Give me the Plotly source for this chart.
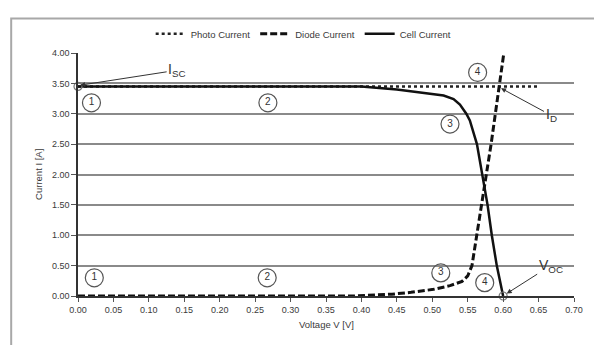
import plotly.graph_objects as go

# ---- data ----
photo_v = [0.00, 0.65]
photo_i = [3.45, 3.45]

diode_v = [0.00, 0.10, 0.20, 0.30, 0.39, 0.443, 0.47, 0.502, 0.525, 0.542, 0.550,
           0.556, 0.563, 0.569, 0.576, 0.583, 0.589, 0.594, 0.601]
diode_i = [0.00, 0.00, 0.00, 0.00, 0.00, 0.03, 0.06, 0.11, 0.17, 0.24, 0.33,
           0.50, 1.00, 1.50, 2.00, 2.50, 3.00, 3.45, 4.00]

cell_v = [0.00, 0.10, 0.20, 0.30, 0.40, 0.45, 0.47, 0.50, 0.516, 0.53, 0.539, 0.548,
          0.553, 0.563, 0.571, 0.578, 0.584, 0.591, 0.600]
cell_i = [3.45, 3.45, 3.45, 3.45, 3.45, 3.40, 3.37, 3.33, 3.30, 3.24, 3.15, 3.00,
          2.89, 2.50, 2.00, 1.50, 1.00, 0.50, 0.00]

region_v = [0.019, 0.268, 0.525, 0.564, 0.023, 0.267, 0.512, 0.574]
region_i = [3.18, 3.18, 2.83, 3.68, 0.30, 0.30, 0.38, 0.22]
region_lbl = ["1", "2", "3", "4", "1", "2", "3", "4"]

point_v = [0.00, 0.600]
point_i = [3.45, 0.00]

x_ticks = [round(0.05 * k, 2) for k in range(15)]
y_ticks = [0.5 * k for k in range(9)]

FONT = "Liberation Sans, Arial, sans-serif"
TXT = "#3a3a3a"

fig = go.Figure()
fig.add_trace(go.Scatter(x=photo_v, y=photo_i, mode="lines", name="Photo Current",
                         line=dict(color="#222", width=2.5, dash="dot")))
fig.add_trace(go.Scatter(x=diode_v, y=diode_i, mode="lines", name="Diode Current",
                         line=dict(color="#111", width=3, dash="7px,3px")))
fig.add_trace(go.Scatter(x=cell_v, y=cell_i, mode="lines", name="Cell Current",
                         line=dict(color="#111", width=2.5)))
fig.add_trace(go.Scatter(x=region_v, y=region_i, mode="markers+text", text=region_lbl,
                         textposition="middle center", showlegend=False,
                         textfont=dict(family=FONT, size=10, color="#333"),
                         marker=dict(symbol="circle-open", size=18,
                                     line=dict(color="#555", width=1.2), color="#555"),
                         cliponaxis=False))
fig.add_trace(go.Scatter(x=point_v, y=point_i, mode="markers", showlegend=False,
                         marker=dict(symbol="circle-open", size=8,
                                     line=dict(color="#777", width=1.2), color="#777"),
                         cliponaxis=False))

arrow = dict(showarrow=True, arrowhead=2, arrowsize=1, arrowwidth=1, arrowcolor="#333",
             font=dict(family=FONT, size=14, color="#333"))
fig.add_annotation(x=0.003, y=3.47, text="I<sub>SC</sub>", ax=97, ay=-15, **arrow)
fig.add_annotation(x=0.597, y=3.42, text="I<sub>D</sub>", ax=50, ay=27, **arrow)
fig.add_annotation(x=0.605, y=0.04, text="V<sub>OC</sub>", ax=44, ay=-28, **arrow)

fig.add_annotation(x=-0.095, y=0.5, xref="paper", yref="paper", text="Current I [A]",
                   textangle=-90, showarrow=False,
                   font=dict(family=FONT, size=9.5, color=TXT))
fig.add_annotation(x=0.5, y=-0.150, xref="paper", yref="paper", text="Voltage V [V]",
                   showarrow=False, font=dict(family=FONT, size=9.5, color=TXT))

fig.add_shape(type="rect", xref="paper", yref="paper", x0=-0.1347, x1=1.2,
              y0=-0.213, y1=1.142, line=dict(color="#a8a8a8", width=2))

# page body adds an 8px margin on every side: figure sized so the page fits the window
fig.update_layout(
    width=586, height=337,
    margin=dict(l=70, r=11, t=35, b=49),
    paper_bgcolor="white", plot_bgcolor="white",
    font=dict(family=FONT, size=9, color=TXT),
    legend=dict(orientation="h", x=0.455, xanchor="center", y=1.079, yanchor="middle",
                font=dict(family=FONT, size=9.5, color=TXT), itemwidth=30,
                bgcolor="rgba(0,0,0,0)"),
)
fig.update_xaxes(range=[0, 0.70], tickvals=x_ticks, ticktext=[f"{v:.2f}" for v in x_ticks],
                 showgrid=False, zeroline=False, showline=True, linecolor="#333", linewidth=1.5,
                 ticks="outside", ticklen=4, tickcolor="#555", tickfont=dict(size=9))
fig.update_yaxes(range=[0, 4.0], tickvals=y_ticks, ticktext=[f"{v:.2f}" for v in y_ticks],
                 showgrid=True, gridcolor="#8a8a8a", gridwidth=1.5, zeroline=False,
                 showline=True, linecolor="#333", linewidth=1.5,
                 ticks="outside", ticklen=5, tickcolor="#555", tickfont=dict(size=9))

fig.write_html("out.html")
